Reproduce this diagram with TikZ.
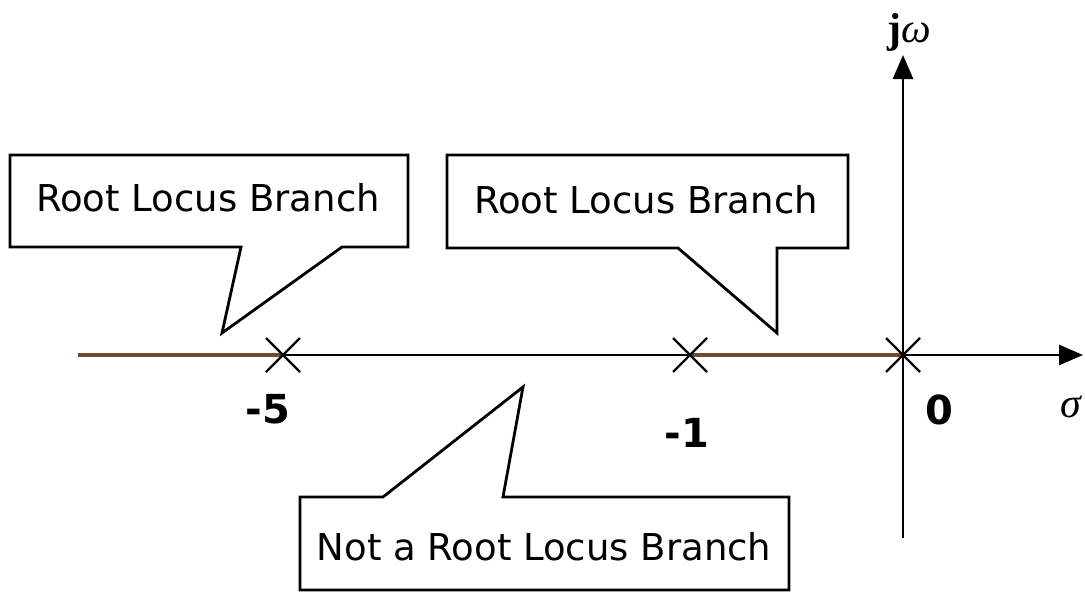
\documentclass[tikz,border=0pt]{standalone}
\usepackage{fontspec}
\setsansfont{DejaVu Sans}
\newfontfamily\grkfont{Liberation Serif}
\usetikzlibrary{arrows.meta}
\definecolor{branch}{RGB}{108,76,48}
\begin{document}
\begin{tikzpicture}[x=1pt,y=-1pt,
  axisline/.style={line width=2.8pt,-{Triangle[length=24pt,width=20pt]}},
  rl/.style={line width=4.5pt,branch},
  boxline/.style={line width=2.8pt,line join=miter},
  crossmark/.style={line width=2.4pt},
  lbl/.style={font=\sffamily\fontsize{37}{40}\selectfont,inner sep=0pt},
  num/.style={font=\sffamily\bfseries\fontsize{40}{44}\selectfont,inner sep=0pt},
  grk/.style={font=\grkfont\fontsize{#1}{#1}\selectfont,inner sep=0pt}]
\useasboundingbox (0,0) rectangle (1085,592);
% axes
\coordinate (xl) at (78,355);
\coordinate (xr) at (1083,355);
\coordinate (yb) at (903,538);
\coordinate (yt) at (903,55);
\coordinate (p5) at (283,355);
\coordinate (p1) at (690,355);
\coordinate (p0) at (903,355);
\draw[axisline] (p5) -- (xr);
\draw[axisline] (yb) -- (yt);
\draw[rl] (xl) -- (p5);
\draw[rl] (p1) -- (p0);
% crosses
\foreach \p in {p5,p1,p0}{
  \draw[crossmark] ([shift={(-17,-17)}]\p) -- ([shift={(17,17)}]\p);
  \draw[crossmark] ([shift={(-17,17)}]\p) -- ([shift={(17,-17)}]\p);
}
% callout 1
\draw[boxline,fill=white] (10,155) -- (408,155) -- (408,247) -- (342,247) -- (222,333) -- (241,247) -- (10,247) -- cycle;
\node[lbl] (t1) at (208,198) {Root Locus Branch};
% callout 2
\draw[boxline,fill=white] (447,155) -- (848,155) -- (848,248) -- (777,248) -- (777,333) -- (678,248) -- (447,248) -- cycle;
\node[lbl] (t2) at (646,200) {Root Locus Branch};
% callout 3
\draw[boxline,fill=white] (300,497) -- (383,497) -- (523,387) -- (503,497) -- (789,497) -- (789,590) -- (300,590) -- cycle;
\node[lbl] (t3) at (544,547) {Not a Root Locus Branch};
% labels
\node[num] (l5) at (268,409) {-5};
\node[num] (l1) at (687,433) {-1};
\node[num] (l0) at (939,410) {0};
\node[grk=42,anchor=base] (ls) at (1071,417) {\itshape σ};
\node[grk=42,anchor=base] (lj) at (909,42) {{\bfseries j}\itshape ω};
\end{tikzpicture}
\end{document}
